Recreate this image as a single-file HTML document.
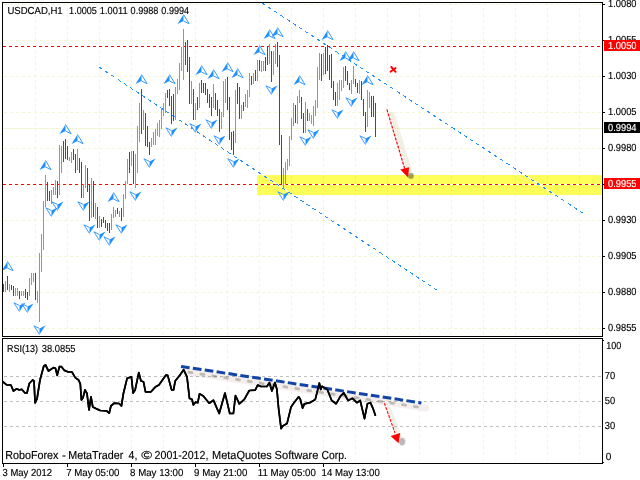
<!DOCTYPE html><html><head><meta charset="utf-8"><style>html,body{margin:0;padding:0;background:#fff;overflow:hidden}svg{display:block}text{font-family:"Liberation Sans",sans-serif;text-rendering:geometricPrecision}</style></head><body>
<svg width="640" height="480" viewBox="0 0 640 480">
<rect width="640" height="480" fill="#fff"/>
<g shape-rendering="crispEdges" stroke="#f4f4d6" stroke-width="1" stroke-dasharray="3 3">
<line x1="35.5" y1="2" x2="35.5" y2="336"/>
<line x1="35.5" y1="338" x2="35.5" y2="463"/>
<line x1="67.5" y1="2" x2="67.5" y2="336"/>
<line x1="67.5" y1="338" x2="67.5" y2="463"/>
<line x1="99.5" y1="2" x2="99.5" y2="336"/>
<line x1="99.5" y1="338" x2="99.5" y2="463"/>
<line x1="131.5" y1="2" x2="131.5" y2="336"/>
<line x1="131.5" y1="338" x2="131.5" y2="463"/>
<line x1="163.5" y1="2" x2="163.5" y2="336"/>
<line x1="163.5" y1="338" x2="163.5" y2="463"/>
<line x1="195.5" y1="2" x2="195.5" y2="336"/>
<line x1="195.5" y1="338" x2="195.5" y2="463"/>
<line x1="227.5" y1="2" x2="227.5" y2="336"/>
<line x1="227.5" y1="338" x2="227.5" y2="463"/>
<line x1="259.5" y1="2" x2="259.5" y2="336"/>
<line x1="259.5" y1="338" x2="259.5" y2="463"/>
<line x1="291.5" y1="2" x2="291.5" y2="336"/>
<line x1="291.5" y1="338" x2="291.5" y2="463"/>
<line x1="323.5" y1="2" x2="323.5" y2="336"/>
<line x1="323.5" y1="338" x2="323.5" y2="463"/>
<line x1="355.5" y1="2" x2="355.5" y2="336"/>
<line x1="355.5" y1="338" x2="355.5" y2="463"/>
<line x1="387.5" y1="2" x2="387.5" y2="336"/>
<line x1="387.5" y1="338" x2="387.5" y2="463"/>
<line x1="419.5" y1="2" x2="419.5" y2="336"/>
<line x1="419.5" y1="338" x2="419.5" y2="463"/>
<line x1="451.5" y1="2" x2="451.5" y2="336"/>
<line x1="451.5" y1="338" x2="451.5" y2="463"/>
<line x1="483.5" y1="2" x2="483.5" y2="336"/>
<line x1="483.5" y1="338" x2="483.5" y2="463"/>
<line x1="515.5" y1="2" x2="515.5" y2="336"/>
<line x1="515.5" y1="338" x2="515.5" y2="463"/>
<line x1="547.5" y1="2" x2="547.5" y2="336"/>
<line x1="547.5" y1="338" x2="547.5" y2="463"/>
<line x1="579.5" y1="2" x2="579.5" y2="336"/>
<line x1="579.5" y1="338" x2="579.5" y2="463"/>
<line x1="4" y1="4.5" x2="602" y2="4.5"/>
<line x1="4" y1="40.5" x2="602" y2="40.5"/>
<line x1="4" y1="76.5" x2="602" y2="76.5"/>
<line x1="4" y1="112.5" x2="602" y2="112.5"/>
<line x1="4" y1="148.5" x2="602" y2="148.5"/>
<line x1="4" y1="184.5" x2="602" y2="184.5"/>
<line x1="4" y1="220.5" x2="602" y2="220.5"/>
<line x1="4" y1="256.5" x2="602" y2="256.5"/>
<line x1="4" y1="292.5" x2="602" y2="292.5"/>
<line x1="4" y1="328.5" x2="602" y2="328.5"/>
</g>
<rect x="3" y="128" width="599" height="1" fill="#f4f4d6" shape-rendering="crispEdges"/>
<rect x="257" y="175" width="345" height="20" fill="#ffff5a" shape-rendering="crispEdges"/>
<g shape-rendering="crispEdges" stroke="#eeee66" stroke-width="1" stroke-dasharray="3 3">
<line x1="259.5" y1="176" x2="259.5" y2="195"/>
<line x1="291.5" y1="176" x2="291.5" y2="195"/>
<line x1="323.5" y1="176" x2="323.5" y2="195"/>
<line x1="355.5" y1="176" x2="355.5" y2="195"/>
<line x1="387.5" y1="176" x2="387.5" y2="195"/>
<line x1="419.5" y1="176" x2="419.5" y2="195"/>
<line x1="451.5" y1="176" x2="451.5" y2="195"/>
<line x1="483.5" y1="176" x2="483.5" y2="195"/>
<line x1="515.5" y1="176" x2="515.5" y2="195"/>
<line x1="547.5" y1="176" x2="547.5" y2="195"/>
<line x1="579.5" y1="176" x2="579.5" y2="195"/>
</g>
<g shape-rendering="crispEdges" stroke="#c0c0c0" stroke-width="1" stroke-dasharray="3 3">
<line x1="4" y1="376.5" x2="602" y2="376.5"/>
<line x1="4" y1="401.5" x2="602" y2="401.5"/>
<line x1="4" y1="426.5" x2="602" y2="426.5"/>
</g>
<rect x="257" y="184" width="345" height="1" fill="#fff" shape-rendering="crispEdges"/>
<g shape-rendering="crispEdges" stroke="#ff0000" stroke-width="1" stroke-dasharray="3 3">
<line x1="3" y1="46.5" x2="602" y2="46.5"/>
<line x1="3" y1="184.5" x2="602" y2="184.5"/>
</g>
<defs><clipPath id="yel"><rect x="257" y="175" width="345" height="20"/></clipPath><clipPath id="main"><rect x="3" y="3" width="599" height="333"/></clipPath></defs>
<g clip-path="url(#main)">
<line x1="99.4" y1="67.25" x2="438.7" y2="291.25" stroke="#fff" stroke-width="1.2" clip-path="url(#yel)"/><line x1="99.4" y1="67.25" x2="438.7" y2="291.25" stroke="#1e90ff" stroke-width="1" stroke-dasharray="3.65 3.65" shape-rendering="crispEdges"/>
<line x1="256.25" y1="-0.75" x2="582.5" y2="212.9" stroke="#fff" stroke-width="1.2" clip-path="url(#yel)"/><line x1="256.25" y1="-0.75" x2="582.5" y2="212.9" stroke="#1e90ff" stroke-width="1" stroke-dasharray="3.65 3.65" shape-rendering="crispEdges"/>
</g>
<g shape-rendering="crispEdges">
<rect x="3" y="284" width="1" height="8" fill="#ff0000"/>
<rect x="5" y="281" width="1" height="11" fill="#00ff00"/>
<rect x="7" y="276" width="1" height="14" fill="#ff0000"/>
<rect x="9" y="284" width="1" height="8" fill="#00ff00"/>
<rect x="11" y="285" width="1" height="5" fill="#ff0000"/>
<rect x="13" y="286" width="1" height="10" fill="#ff0000"/>
<rect x="15" y="288" width="1" height="8" fill="#00ff00"/>
<rect x="17" y="288" width="1" height="8" fill="#00ff00"/>
<rect x="19" y="291" width="1" height="8" fill="#ff0000"/>
<rect x="21" y="291" width="1" height="5" fill="#00ff00"/>
<rect x="23" y="291" width="1" height="5" fill="#00ff00"/>
<rect x="25" y="289" width="1" height="9" fill="#ff0000"/>
<rect x="27" y="292" width="1" height="8" fill="#ff0000"/>
<rect x="29" y="278" width="1" height="18" fill="#00ff00"/>
<rect x="31" y="273" width="1" height="12" fill="#00ff00"/>
<rect x="33" y="273" width="1" height="9" fill="#00ff00"/>
<rect x="35" y="273" width="1" height="27" fill="#ff0000"/>
<rect x="37" y="291" width="1" height="12" fill="#00ff00"/>
<rect x="39" y="253" width="1" height="69" fill="#00ff00"/>
<rect x="41" y="234" width="1" height="38" fill="#00ff00"/>
<rect x="43" y="201" width="1" height="49" fill="#00ff00"/>
<rect x="45" y="175" width="1" height="32" fill="#00ff00"/>
<rect x="47" y="182" width="1" height="19" fill="#ff0000"/>
<rect x="49" y="191" width="1" height="10" fill="#ff0000"/>
<rect x="51" y="190" width="1" height="14" fill="#00ff00"/>
<rect x="53" y="187" width="1" height="8" fill="#00ff00"/>
<rect x="55" y="180" width="1" height="15" fill="#00ff00"/>
<rect x="57" y="181" width="1" height="17" fill="#ff0000"/>
<rect x="59" y="145" width="1" height="50" fill="#00ff00"/>
<rect x="61" y="146" width="1" height="27" fill="#00ff00"/>
<rect x="63" y="141" width="1" height="21" fill="#ff0000"/>
<rect x="65" y="139" width="1" height="20" fill="#ff0000"/>
<rect x="67" y="146" width="1" height="14" fill="#ff0000"/>
<rect x="69" y="157" width="1" height="4" fill="#00ff00"/>
<rect x="71" y="152" width="1" height="11" fill="#00ff00"/>
<rect x="73" y="149" width="1" height="11" fill="#ff0000"/>
<rect x="75" y="154" width="1" height="19" fill="#ff0000"/>
<rect x="77" y="149" width="1" height="21" fill="#00ff00"/>
<rect x="79" y="158" width="1" height="15" fill="#ff0000"/>
<rect x="81" y="162" width="1" height="36" fill="#ff0000"/>
<rect x="83" y="184" width="1" height="14" fill="#00ff00"/>
<rect x="85" y="165" width="1" height="23" fill="#00ff00"/>
<rect x="87" y="168" width="1" height="24" fill="#ff0000"/>
<rect x="89" y="184" width="1" height="37" fill="#ff0000"/>
<rect x="91" y="178" width="1" height="40" fill="#00ff00"/>
<rect x="93" y="181" width="1" height="36" fill="#ff0000"/>
<rect x="95" y="203" width="1" height="16" fill="#00ff00"/>
<rect x="97" y="207" width="1" height="21" fill="#ff0000"/>
<rect x="99" y="216" width="1" height="12" fill="#00ff00"/>
<rect x="101" y="219" width="1" height="8" fill="#ff0000"/>
<rect x="103" y="217" width="1" height="6" fill="#ff0000"/>
<rect x="105" y="220" width="1" height="8" fill="#ff0000"/>
<rect x="107" y="223" width="1" height="8" fill="#ff0000"/>
<rect x="109" y="223" width="1" height="10" fill="#ff0000"/>
<rect x="111" y="214" width="1" height="16" fill="#00ff00"/>
<rect x="113" y="207" width="1" height="11" fill="#00ff00"/>
<rect x="115" y="210" width="1" height="7" fill="#00ff00"/>
<rect x="117" y="208" width="1" height="6" fill="#ff0000"/>
<rect x="119" y="211" width="1" height="6" fill="#00ff00"/>
<rect x="121" y="208" width="1" height="13" fill="#ff0000"/>
<rect x="123" y="194" width="1" height="23" fill="#00ff00"/>
<rect x="125" y="181" width="1" height="18" fill="#00ff00"/>
<rect x="127" y="159" width="1" height="25" fill="#00ff00"/>
<rect x="129" y="152" width="1" height="21" fill="#ff0000"/>
<rect x="131" y="151" width="1" height="15" fill="#00ff00"/>
<rect x="133" y="151" width="1" height="33" fill="#ff0000"/>
<rect x="135" y="154" width="1" height="34" fill="#00ff00"/>
<rect x="137" y="126" width="1" height="47" fill="#00ff00"/>
<rect x="139" y="103" width="1" height="39" fill="#00ff00"/>
<rect x="141" y="89" width="1" height="45" fill="#ff0000"/>
<rect x="143" y="110" width="1" height="20" fill="#00ff00"/>
<rect x="145" y="113" width="1" height="33" fill="#ff0000"/>
<rect x="147" y="126" width="1" height="21" fill="#ff0000"/>
<rect x="149" y="142" width="1" height="13" fill="#ff0000"/>
<rect x="151" y="138" width="1" height="9" fill="#00ff00"/>
<rect x="153" y="132" width="1" height="13" fill="#00ff00"/>
<rect x="155" y="129" width="1" height="16" fill="#00ff00"/>
<rect x="157" y="123" width="1" height="13" fill="#00ff00"/>
<rect x="159" y="120" width="1" height="17" fill="#00ff00"/>
<rect x="161" y="108" width="1" height="21" fill="#00ff00"/>
<rect x="163" y="103" width="1" height="13" fill="#00ff00"/>
<rect x="165" y="93" width="1" height="20" fill="#00ff00"/>
<rect x="167" y="90" width="1" height="8" fill="#ff0000"/>
<rect x="169" y="89" width="1" height="17" fill="#ff0000"/>
<rect x="171" y="96" width="1" height="28" fill="#ff0000"/>
<rect x="173" y="94" width="1" height="27" fill="#ff0000"/>
<rect x="175" y="87" width="1" height="33" fill="#00ff00"/>
<rect x="177" y="79" width="1" height="15" fill="#00ff00"/>
<rect x="179" y="63" width="1" height="27" fill="#00ff00"/>
<rect x="181" y="47" width="1" height="24" fill="#00ff00"/>
<rect x="183" y="29" width="1" height="51" fill="#00ff00"/>
<rect x="185" y="42" width="1" height="23" fill="#ff0000"/>
<rect x="187" y="40" width="1" height="32" fill="#ff0000"/>
<rect x="189" y="57" width="1" height="47" fill="#ff0000"/>
<rect x="191" y="81" width="1" height="23" fill="#00ff00"/>
<rect x="193" y="89" width="1" height="31" fill="#ff0000"/>
<rect x="195" y="103" width="1" height="17" fill="#00ff00"/>
<rect x="197" y="97" width="1" height="13" fill="#ff0000"/>
<rect x="199" y="83" width="1" height="25" fill="#00ff00"/>
<rect x="201" y="80" width="1" height="13" fill="#ff0000"/>
<rect x="203" y="83" width="1" height="10" fill="#ff0000"/>
<rect x="205" y="83" width="1" height="12" fill="#ff0000"/>
<rect x="207" y="89" width="1" height="14" fill="#ff0000"/>
<rect x="209" y="94" width="1" height="14" fill="#ff0000"/>
<rect x="211" y="97" width="1" height="19" fill="#ff0000"/>
<rect x="213" y="84" width="1" height="24" fill="#00ff00"/>
<rect x="215" y="93" width="1" height="17" fill="#ff0000"/>
<rect x="217" y="100" width="1" height="16" fill="#ff0000"/>
<rect x="219" y="109" width="1" height="23" fill="#ff0000"/>
<rect x="221" y="112" width="1" height="17" fill="#00ff00"/>
<rect x="223" y="81" width="1" height="36" fill="#00ff00"/>
<rect x="225" y="79" width="1" height="24" fill="#00ff00"/>
<rect x="227" y="77" width="1" height="33" fill="#ff0000"/>
<rect x="229" y="97" width="1" height="43" fill="#ff0000"/>
<rect x="231" y="132" width="1" height="18" fill="#ff0000"/>
<rect x="233" y="131" width="1" height="24" fill="#ff0000"/>
<rect x="235" y="90" width="1" height="53" fill="#00ff00"/>
<rect x="237" y="83" width="1" height="21" fill="#ff0000"/>
<rect x="239" y="87" width="1" height="32" fill="#ff0000"/>
<rect x="241" y="105" width="1" height="14" fill="#00ff00"/>
<rect x="243" y="102" width="1" height="9" fill="#ff0000"/>
<rect x="245" y="94" width="1" height="13" fill="#00ff00"/>
<rect x="247" y="90" width="1" height="18" fill="#00ff00"/>
<rect x="249" y="73" width="1" height="24" fill="#00ff00"/>
<rect x="251" y="76" width="1" height="9" fill="#ff0000"/>
<rect x="253" y="73" width="1" height="11" fill="#00ff00"/>
<rect x="255" y="70" width="1" height="11" fill="#ff0000"/>
<rect x="257" y="60" width="1" height="21" fill="#00ff00"/>
<rect x="259" y="60" width="1" height="11" fill="#ff0000"/>
<rect x="261" y="61" width="1" height="11" fill="#00ff00"/>
<rect x="263" y="61" width="1" height="10" fill="#00ff00"/>
<rect x="265" y="57" width="1" height="14" fill="#ff0000"/>
<rect x="267" y="46" width="1" height="19" fill="#ff0000"/>
<rect x="269" y="44" width="1" height="20" fill="#00ff00"/>
<rect x="271" y="51" width="1" height="31" fill="#ff0000"/>
<rect x="273" y="51" width="1" height="24" fill="#00ff00"/>
<rect x="275" y="44" width="1" height="20" fill="#00ff00"/>
<rect x="277" y="42" width="1" height="25" fill="#ff0000"/>
<rect x="279" y="55" width="1" height="90" fill="#ff0000"/>
<rect x="281" y="135" width="1" height="50" fill="#ff0000"/>
<rect x="283" y="168" width="1" height="20" fill="#00ff00"/>
<rect x="285" y="162" width="1" height="23" fill="#00ff00"/>
<rect x="287" y="159" width="1" height="11" fill="#00ff00"/>
<rect x="289" y="136" width="1" height="30" fill="#00ff00"/>
<rect x="291" y="118" width="1" height="22" fill="#00ff00"/>
<rect x="293" y="103" width="1" height="23" fill="#00ff00"/>
<rect x="295" y="105" width="1" height="18" fill="#ff0000"/>
<rect x="297" y="96" width="1" height="28" fill="#00ff00"/>
<rect x="299" y="90" width="1" height="13" fill="#00ff00"/>
<rect x="301" y="97" width="1" height="22" fill="#ff0000"/>
<rect x="303" y="113" width="1" height="20" fill="#ff0000"/>
<rect x="305" y="102" width="1" height="31" fill="#00ff00"/>
<rect x="307" y="109" width="1" height="12" fill="#ff0000"/>
<rect x="309" y="113" width="1" height="8" fill="#00ff00"/>
<rect x="311" y="115" width="1" height="9" fill="#00ff00"/>
<rect x="313" y="106" width="1" height="20" fill="#00ff00"/>
<rect x="315" y="100" width="1" height="16" fill="#00ff00"/>
<rect x="317" y="67" width="1" height="41" fill="#00ff00"/>
<rect x="319" y="53" width="1" height="27" fill="#00ff00"/>
<rect x="321" y="54" width="1" height="27" fill="#ff0000"/>
<rect x="323" y="53" width="1" height="22" fill="#00ff00"/>
<rect x="325" y="47" width="1" height="27" fill="#ff0000"/>
<rect x="327" y="45" width="1" height="26" fill="#ff0000"/>
<rect x="329" y="55" width="1" height="25" fill="#ff0000"/>
<rect x="331" y="54" width="1" height="34" fill="#ff0000"/>
<rect x="333" y="81" width="1" height="19" fill="#ff0000"/>
<rect x="335" y="92" width="1" height="14" fill="#ff0000"/>
<rect x="337" y="83" width="1" height="23" fill="#00ff00"/>
<rect x="339" y="80" width="1" height="20" fill="#00ff00"/>
<rect x="341" y="80" width="1" height="11" fill="#00ff00"/>
<rect x="343" y="67" width="1" height="21" fill="#00ff00"/>
<rect x="345" y="66" width="1" height="15" fill="#ff0000"/>
<rect x="347" y="71" width="1" height="14" fill="#ff0000"/>
<rect x="349" y="83" width="1" height="7" fill="#ff0000"/>
<rect x="351" y="80" width="1" height="14" fill="#00ff00"/>
<rect x="353" y="66" width="1" height="18" fill="#00ff00"/>
<rect x="355" y="79" width="1" height="8" fill="#ff0000"/>
<rect x="357" y="83" width="1" height="10" fill="#ff0000"/>
<rect x="359" y="80" width="1" height="14" fill="#00ff00"/>
<rect x="361" y="81" width="1" height="19" fill="#ff0000"/>
<rect x="363" y="99" width="1" height="17" fill="#ff0000"/>
<rect x="365" y="112" width="1" height="20" fill="#ff0000"/>
<rect x="367" y="90" width="1" height="37" fill="#00ff00"/>
<rect x="369" y="92" width="1" height="16" fill="#00ff00"/>
<rect x="371" y="96" width="1" height="21" fill="#ff0000"/>
<rect x="373" y="96" width="1" height="21" fill="#ff0000"/>
<rect x="375" y="103" width="1" height="34" fill="#ff0000"/>
</g>
<polygon points="7.5,261.5 1.5,271 7.5,268" fill="#1e90ff"/><polyline points="7.5,261.5 13.1,270.7 7.5,268" fill="none" stroke="#3a9cff" stroke-width="1"/>
<polygon points="45.5,160.5 39.5,170 45.5,167" fill="#1e90ff"/><polyline points="45.5,160.5 51.1,169.7 45.5,167" fill="none" stroke="#3a9cff" stroke-width="1"/>
<polygon points="65.5,124.5 59.5,134 65.5,131" fill="#1e90ff"/><polyline points="65.5,124.5 71.1,133.7 65.5,131" fill="none" stroke="#3a9cff" stroke-width="1"/>
<polygon points="77.5,134.5 71.5,144 77.5,141" fill="#1e90ff"/><polyline points="77.5,134.5 83.1,143.7 77.5,141" fill="none" stroke="#3a9cff" stroke-width="1"/>
<polygon points="113.5,192.5 107.5,202 113.5,199" fill="#1e90ff"/><polyline points="113.5,192.5 119.1,201.7 113.5,199" fill="none" stroke="#3a9cff" stroke-width="1"/>
<polygon points="141.5,74.5 135.5,84 141.5,81" fill="#1e90ff"/><polyline points="141.5,74.5 147.1,83.7 141.5,81" fill="none" stroke="#3a9cff" stroke-width="1"/>
<polygon points="169.5,74.5 163.5,84 169.5,81" fill="#1e90ff"/><polyline points="169.5,74.5 175.1,83.7 169.5,81" fill="none" stroke="#3a9cff" stroke-width="1"/>
<polygon points="183.5,14.5 177.5,24 183.5,21" fill="#1e90ff"/><polyline points="183.5,14.5 189.1,23.7 183.5,21" fill="none" stroke="#3a9cff" stroke-width="1"/>
<polygon points="201.5,65.5 195.5,75 201.5,72" fill="#1e90ff"/><polyline points="201.5,65.5 207.1,74.7 201.5,72" fill="none" stroke="#3a9cff" stroke-width="1"/>
<polygon points="213.5,69.5 207.5,79 213.5,76" fill="#1e90ff"/><polyline points="213.5,69.5 219.1,78.7 213.5,76" fill="none" stroke="#3a9cff" stroke-width="1"/>
<polygon points="227.5,62.5 221.5,72 227.5,69" fill="#1e90ff"/><polyline points="227.5,62.5 233.1,71.7 227.5,69" fill="none" stroke="#3a9cff" stroke-width="1"/>
<polygon points="237.5,68.5 231.5,78 237.5,75" fill="#1e90ff"/><polyline points="237.5,68.5 243.1,77.7 237.5,75" fill="none" stroke="#3a9cff" stroke-width="1"/>
<polygon points="259.5,45.5 253.5,55 259.5,52" fill="#1e90ff"/><polyline points="259.5,45.5 265.1,54.7 259.5,52" fill="none" stroke="#3a9cff" stroke-width="1"/>
<polygon points="269.5,29.5 263.5,39 269.5,36" fill="#1e90ff"/><polyline points="269.5,29.5 275.1,38.7 269.5,36" fill="none" stroke="#3a9cff" stroke-width="1"/>
<polygon points="277.5,27.5 271.5,37 277.5,34" fill="#1e90ff"/><polyline points="277.5,27.5 283.1,36.7 277.5,34" fill="none" stroke="#3a9cff" stroke-width="1"/>
<polygon points="299.5,75.5 293.5,85 299.5,82" fill="#1e90ff"/><polyline points="299.5,75.5 305.1,84.7 299.5,82" fill="none" stroke="#3a9cff" stroke-width="1"/>
<polygon points="327.5,30.5 321.5,40 327.5,37" fill="#1e90ff"/><polyline points="327.5,30.5 333.1,39.7 327.5,37" fill="none" stroke="#3a9cff" stroke-width="1"/>
<polygon points="345.5,51.5 339.5,61 345.5,58" fill="#1e90ff"/><polyline points="345.5,51.5 351.1,60.7 345.5,58" fill="none" stroke="#3a9cff" stroke-width="1"/>
<polygon points="353.5,51.5 347.5,61 353.5,58" fill="#1e90ff"/><polyline points="353.5,51.5 359.1,60.7 353.5,58" fill="none" stroke="#3a9cff" stroke-width="1"/>
<polygon points="367.5,75.5 361.5,85 367.5,82" fill="#1e90ff"/><polyline points="367.5,75.5 373.1,84.7 367.5,82" fill="none" stroke="#3a9cff" stroke-width="1"/>
<polygon points="19.5,311.5 25.5,302.5 19.5,305.5" fill="#1e90ff"/><polyline points="19.5,311.5 13.9,302.8 19.5,305.5" fill="none" stroke="#3a9cff" stroke-width="1"/>
<polygon points="27.5,312.5 33.5,303.5 27.5,306.5" fill="#1e90ff"/><polyline points="27.5,312.5 21.9,303.8 27.5,306.5" fill="none" stroke="#3a9cff" stroke-width="1"/>
<polygon points="39.5,334.5 45.5,325.5 39.5,328.5" fill="#1e90ff"/><polyline points="39.5,334.5 33.9,325.8 39.5,328.5" fill="none" stroke="#3a9cff" stroke-width="1"/>
<polygon points="51.5,216.5 57.5,207.5 51.5,210.5" fill="#1e90ff"/><polyline points="51.5,216.5 45.9,207.8 51.5,210.5" fill="none" stroke="#3a9cff" stroke-width="1"/>
<polygon points="57.5,210.5 63.5,201.5 57.5,204.5" fill="#1e90ff"/><polyline points="57.5,210.5 51.9,201.8 57.5,204.5" fill="none" stroke="#3a9cff" stroke-width="1"/>
<polygon points="83.5,210.5 89.5,201.5 83.5,204.5" fill="#1e90ff"/><polyline points="83.5,210.5 77.9,201.8 83.5,204.5" fill="none" stroke="#3a9cff" stroke-width="1"/>
<polygon points="89.5,233.5 95.5,224.5 89.5,227.5" fill="#1e90ff"/><polyline points="89.5,233.5 83.9,224.8 89.5,227.5" fill="none" stroke="#3a9cff" stroke-width="1"/>
<polygon points="99.5,240.5 105.5,231.5 99.5,234.5" fill="#1e90ff"/><polyline points="99.5,240.5 93.9,231.8 99.5,234.5" fill="none" stroke="#3a9cff" stroke-width="1"/>
<polygon points="109.5,245.5 115.5,236.5 109.5,239.5" fill="#1e90ff"/><polyline points="109.5,245.5 103.9,236.8 109.5,239.5" fill="none" stroke="#3a9cff" stroke-width="1"/>
<polygon points="121.5,233.5 127.5,224.5 121.5,227.5" fill="#1e90ff"/><polyline points="121.5,233.5 115.9,224.8 121.5,227.5" fill="none" stroke="#3a9cff" stroke-width="1"/>
<polygon points="135.5,200.5 141.5,191.5 135.5,194.5" fill="#1e90ff"/><polyline points="135.5,200.5 129.9,191.8 135.5,194.5" fill="none" stroke="#3a9cff" stroke-width="1"/>
<polygon points="149.5,167.5 155.5,158.5 149.5,161.5" fill="#1e90ff"/><polyline points="149.5,167.5 143.9,158.8 149.5,161.5" fill="none" stroke="#3a9cff" stroke-width="1"/>
<polygon points="171.5,136.5 177.5,127.5 171.5,130.5" fill="#1e90ff"/><polyline points="171.5,136.5 165.9,127.8 171.5,130.5" fill="none" stroke="#3a9cff" stroke-width="1"/>
<polygon points="195.5,132.5 201.5,123.5 195.5,126.5" fill="#1e90ff"/><polyline points="195.5,132.5 189.9,123.8 195.5,126.5" fill="none" stroke="#3a9cff" stroke-width="1"/>
<polygon points="211.5,128.5 217.5,119.5 211.5,122.5" fill="#1e90ff"/><polyline points="211.5,128.5 205.9,119.8 211.5,122.5" fill="none" stroke="#3a9cff" stroke-width="1"/>
<polygon points="219.5,144.5 225.5,135.5 219.5,138.5" fill="#1e90ff"/><polyline points="219.5,144.5 213.9,135.8 219.5,138.5" fill="none" stroke="#3a9cff" stroke-width="1"/>
<polygon points="233.5,167.5 239.5,158.5 233.5,161.5" fill="#1e90ff"/><polyline points="233.5,167.5 227.9,158.8 233.5,161.5" fill="none" stroke="#3a9cff" stroke-width="1"/>
<polygon points="271.5,94.5 277.5,85.5 271.5,88.5" fill="#1e90ff"/><polyline points="271.5,94.5 265.9,85.8 271.5,88.5" fill="none" stroke="#3a9cff" stroke-width="1"/>
<polygon points="283.5,200.5 289.5,191.5 283.5,194.5" fill="#1e90ff"/><polyline points="283.5,200.5 277.9,191.8 283.5,194.5" fill="none" stroke="#3a9cff" stroke-width="1"/>
<polygon points="305.5,145.5 311.5,136.5 305.5,139.5" fill="#1e90ff"/><polyline points="305.5,145.5 299.9,136.8 305.5,139.5" fill="none" stroke="#3a9cff" stroke-width="1"/>
<polygon points="313.5,138.5 319.5,129.5 313.5,132.5" fill="#1e90ff"/><polyline points="313.5,138.5 307.9,129.8 313.5,132.5" fill="none" stroke="#3a9cff" stroke-width="1"/>
<polygon points="337.5,118.5 343.5,109.5 337.5,112.5" fill="#1e90ff"/><polyline points="337.5,118.5 331.9,109.8 337.5,112.5" fill="none" stroke="#3a9cff" stroke-width="1"/>
<polygon points="351.5,106.5 357.5,97.5 351.5,100.5" fill="#1e90ff"/><polyline points="351.5,106.5 345.9,97.8 351.5,100.5" fill="none" stroke="#3a9cff" stroke-width="1"/>
<polygon points="365.5,144.5 371.5,135.5 365.5,138.5" fill="#1e90ff"/><polyline points="365.5,144.5 359.9,135.8 365.5,138.5" fill="none" stroke="#3a9cff" stroke-width="1"/>
<line x1="392.2" y1="114" x2="409.6" y2="170" stroke="#f1f0e3" stroke-width="4.6" stroke-linecap="round" style="mix-blend-mode:multiply"/>
<circle cx="410.9" cy="175.9" r="3.6" fill="#c8e070" fill-opacity="0.35"/>
<circle cx="410.9" cy="175.9" r="2.8" fill="#b0a4b4" style="mix-blend-mode:multiply"/>
<line x1="386.6" y1="108.4" x2="405.1" y2="170" stroke="#ffd8e4" stroke-width="1.15"/>
<line x1="386.6" y1="108.4" x2="405.1" y2="170" stroke="#ff0000" stroke-width="1.15" stroke-dasharray="2.8 1.4" stroke-dashoffset="-1.2"/>
<polygon points="400.3,169.4 409.1,167.2 408.1,177.5" fill="#ff0000"/>
<g stroke="#ff0000" stroke-width="1.9" stroke-linecap="round"><line x1="391.3" y1="67" x2="395.6" y2="71.8"/><line x1="395.6" y1="68" x2="390.5" y2="71.8"/></g>
<polyline points="2.5,381.5 6.7,384.8 10.9,385 13.4,391 16.7,388.8 19.2,390 21.7,389.3 25,393 27,393 29.3,383.5 32.6,380 34,381 35.1,403 37,399 40,380 43.8,366 45.5,365 48.5,371 53.5,367.6 55.5,368.4 57.2,375.4 59.4,366.7 61.5,366.7 64.4,370.4 67.7,371.8 72,372 75.2,377.6 78.6,380 80.3,383.8 81.4,400 83,397.7 85,389.8 87,393.5 89,410 91,396.9 92.8,407 96,408.6 100.3,410.5 106.7,411 109.2,413.2 110.9,406 114.2,403.2 119.2,403.5 121.4,406 123.4,393.5 127.1,378.4 131.4,376.8 133.1,393.1 135.1,390.1 138.8,372.6 141,381 143.5,381.8 145.5,391.8 151,391.8 155.2,387.1 158.9,385.1 166,375.1 167.7,375.4 171.6,389.8 173.6,389.8 175.2,381 180,375 183.6,369.7 187,376.8 189.5,398.5 192,399.3 193.3,404.8 195.7,402.2 197.8,402.7 199.5,393.8 203.3,396 209.2,403.2 213.4,400.2 219.2,413.5 225,393.1 229.8,413.5 233.4,413.5 235.5,395.5 239.3,403.8 244.3,399.3 249.3,390.5 255.2,390.1 257.7,385.1 261,386.5 266.9,386.5 269.4,382.6 271.9,391 274.9,382.6 276.9,389.3 278.6,408.5 281.1,428.6 282.8,426.1 287,423.6 291.1,406.9 293.6,403.2 298.7,396.8 300.3,399.3 302.6,408.1 304.4,403.8 309.8,402.7 315.3,399.4 317.5,390.6 319.3,383 320.8,389.5 321.9,386.3 327.3,389.5 331.7,400.5 336.1,403.8 340.5,396.1 343.8,392.8 348.1,400.5 352.5,398.3 356.9,402.7 360.2,400.5 364.5,418.6 367.4,403.8 370.4,402.7 373.3,409.2 375.5,415.8" fill="none" stroke="#000" stroke-width="1.7" stroke-linejoin="round"/>
<defs><filter id="bl" x="-5%" y="-50%" width="110%" height="200%"><feGaussianBlur stdDeviation="0.7"/></filter></defs>
<g filter="url(#bl)" style="mix-blend-mode:multiply">
<line x1="186" y1="371.8" x2="426" y2="408.3" stroke="#f5eeee" stroke-width="6.5" stroke-linecap="round"/>
<line x1="186" y1="371.8" x2="426" y2="408.3" stroke="#bcbcb4" stroke-width="2.8" stroke-dasharray="3 9" stroke-dashoffset="-3" stroke-linecap="round"/>
</g>
<line x1="181" y1="366.4" x2="421.4" y2="402.9" stroke="#1244a8" stroke-width="3" stroke-dasharray="8.7 3.3"/>
<polyline points="2.5,381.5 6.7,384.8 10.9,385 13.4,391 16.7,388.8 19.2,390 21.7,389.3 25,393 27,393 29.3,383.5 32.6,380 34,381 35.1,403 37,399 40,380 43.8,366 45.5,365 48.5,371 53.5,367.6 55.5,368.4 57.2,375.4 59.4,366.7 61.5,366.7 64.4,370.4 67.7,371.8 72,372 75.2,377.6 78.6,380 80.3,383.8 81.4,400 83,397.7 85,389.8 87,393.5 89,410 91,396.9 92.8,407 96,408.6 100.3,410.5 106.7,411 109.2,413.2 110.9,406 114.2,403.2 119.2,403.5 121.4,406 123.4,393.5 127.1,378.4 131.4,376.8 133.1,393.1 135.1,390.1 138.8,372.6 141,381 143.5,381.8 145.5,391.8 151,391.8 155.2,387.1 158.9,385.1 166,375.1 167.7,375.4 171.6,389.8 173.6,389.8 175.2,381 180,375 183.6,369.7 187,376.8 189.5,398.5 192,399.3 193.3,404.8 195.7,402.2 197.8,402.7 199.5,393.8 203.3,396 209.2,403.2 213.4,400.2 219.2,413.5 225,393.1 229.8,413.5 233.4,413.5 235.5,395.5 239.3,403.8 244.3,399.3 249.3,390.5 255.2,390.1 257.7,385.1 261,386.5 266.9,386.5 269.4,382.6 271.9,391 274.9,382.6 276.9,389.3 278.6,408.5 281.1,428.6 282.8,426.1 287,423.6 291.1,406.9 293.6,403.2 298.7,396.8 300.3,399.3 302.6,408.1 304.4,403.8 309.8,402.7 315.3,399.4 317.5,390.6 319.3,383 320.8,389.5 321.9,386.3 327.3,389.5 331.7,400.5 336.1,403.8 340.5,396.1 343.8,392.8 348.1,400.5 352.5,398.3 356.9,402.7 360.2,400.5 364.5,418.6 367.4,403.8 370.4,402.7 373.3,409.2 375.5,415.8" fill="none" stroke="#000" stroke-width="1.7" stroke-linejoin="round"/>
<line x1="389.3" y1="409" x2="400" y2="437" stroke="#f1f0e4" stroke-width="4" stroke-linecap="round" style="mix-blend-mode:multiply"/>
<ellipse cx="402.1" cy="441.6" rx="3.9" ry="4.6" fill="#f6e8ec"/>
<ellipse cx="402.1" cy="441.6" rx="2.9" ry="3.7" fill="#b9b9b9"/>
<line x1="384.4" y1="403.3" x2="395.1" y2="433.1" stroke="#ffd8e4" stroke-width="1.05"/>
<line x1="384.4" y1="403.3" x2="395.1" y2="433.1" stroke="#ff0000" stroke-width="1.05" stroke-dasharray="2.8 1.4"/>
<polygon points="390.6,435.9 400.2,433.1 398.5,443.2" fill="#ff0000"/>
<g shape-rendering="crispEdges" fill="none" stroke="#000" stroke-width="1">
<rect x="2.5" y="2.5" width="600" height="334"/>
<rect x="2.5" y="338.5" width="600" height="125"/>
</g>
<g shape-rendering="crispEdges" fill="#000">
<rect x="603" y="4" width="2" height="1"/>
<rect x="603" y="40" width="2" height="1"/>
<rect x="603" y="76" width="2" height="1"/>
<rect x="603" y="112" width="2" height="1"/>
<rect x="603" y="148" width="2" height="1"/>
<rect x="603" y="184" width="2" height="1"/>
<rect x="603" y="220" width="2" height="1"/>
<rect x="603" y="256" width="2" height="1"/>
<rect x="603" y="292" width="2" height="1"/>
<rect x="603" y="328" width="2" height="1"/>
<rect x="603" y="340" width="1" height="1"/>
<rect x="603" y="462" width="1" height="1"/>
<rect x="3" y="464" width="1" height="3"/>
<rect x="67" y="464" width="1" height="3"/>
<rect x="131" y="464" width="1" height="3"/>
<rect x="195" y="464" width="1" height="3"/>
<rect x="259" y="464" width="1" height="3"/>
<rect x="323" y="464" width="1" height="3"/>
</g>
<text x="608.00" y="7" font-size="10.2px" fill="#000" textLength="28.50" lengthAdjust="spacingAndGlyphs" stroke="#000" stroke-width="0.15" >1.0080</text>
<text x="608.00" y="43" font-size="10.2px" fill="#000" textLength="28.50" lengthAdjust="spacingAndGlyphs" stroke="#000" stroke-width="0.15" >1.0055</text>
<text x="608.00" y="79" font-size="10.2px" fill="#000" textLength="28.50" lengthAdjust="spacingAndGlyphs" stroke="#000" stroke-width="0.15" >1.0030</text>
<text x="608.00" y="115" font-size="10.2px" fill="#000" textLength="28.50" lengthAdjust="spacingAndGlyphs" stroke="#000" stroke-width="0.15" >1.0005</text>
<text x="608.00" y="151" font-size="10.2px" fill="#000" textLength="28.50" lengthAdjust="spacingAndGlyphs" stroke="#000" stroke-width="0.15" >0.9980</text>
<text x="608.00" y="187" font-size="10.2px" fill="#000" textLength="28.50" lengthAdjust="spacingAndGlyphs" stroke="#000" stroke-width="0.15" >0.9955</text>
<text x="608.00" y="223" font-size="10.2px" fill="#000" textLength="28.50" lengthAdjust="spacingAndGlyphs" stroke="#000" stroke-width="0.15" >0.9930</text>
<text x="608.00" y="259" font-size="10.2px" fill="#000" textLength="28.50" lengthAdjust="spacingAndGlyphs" stroke="#000" stroke-width="0.15" >0.9905</text>
<text x="608.00" y="295" font-size="10.2px" fill="#000" textLength="28.50" lengthAdjust="spacingAndGlyphs" stroke="#000" stroke-width="0.15" >0.9880</text>
<text x="608.00" y="331" font-size="10.2px" fill="#000" textLength="28.50" lengthAdjust="spacingAndGlyphs" stroke="#000" stroke-width="0.15" >0.9855</text>
<text x="606.20" y="349" font-size="10.2px" fill="#000" textLength="15.00" lengthAdjust="spacingAndGlyphs" stroke="#000" stroke-width="0.15" >100</text>
<text x="604.80" y="379" font-size="10.2px" fill="#000" textLength="10.40" lengthAdjust="spacingAndGlyphs" stroke="#000" stroke-width="0.15" >70</text>
<text x="604.80" y="404" font-size="10.2px" fill="#000" textLength="10.40" lengthAdjust="spacingAndGlyphs" stroke="#000" stroke-width="0.15" >50</text>
<text x="604.80" y="429" font-size="10.2px" fill="#000" textLength="10.40" lengthAdjust="spacingAndGlyphs" stroke="#000" stroke-width="0.15" >30</text>
<text x="605.80" y="460" font-size="10.2px" fill="#000" textLength="5.60" lengthAdjust="spacingAndGlyphs" stroke="#000" stroke-width="0.15" >0</text>
<g shape-rendering="crispEdges"><rect x="604" y="40" width="36" height="11" fill="#ff0000"/><rect x="604" y="122" width="36" height="11" fill="#000"/><rect x="604" y="178" width="36" height="11" fill="#ff0000"/></g>
<text x="608.00" y="49" font-size="10.2px" fill="#fff" textLength="28.50" lengthAdjust="spacingAndGlyphs" stroke="#fff" stroke-width="0.15" >1.0050</text>
<text x="608.00" y="131" font-size="10.2px" fill="#fff" textLength="28.50" lengthAdjust="spacingAndGlyphs" stroke="#fff" stroke-width="0.15" >0.9994</text>
<text x="608.00" y="187" font-size="10.2px" fill="#fff" textLength="28.50" lengthAdjust="spacingAndGlyphs" stroke="#fff" stroke-width="0.15" >0.9955</text>
<text x="7.40" y="14" font-size="10.2px" fill="#000" textLength="55.30" lengthAdjust="spacingAndGlyphs" stroke="#000" stroke-width="0.15" >USDCAD,H1</text>
<text x="69.10" y="14" font-size="10.2px" fill="#000" textLength="27.80" lengthAdjust="spacingAndGlyphs" stroke="#000" stroke-width="0.15" >1.0005</text>
<text x="99.85" y="14" font-size="10.2px" fill="#000" textLength="27.80" lengthAdjust="spacingAndGlyphs" stroke="#000" stroke-width="0.15" >1.0011</text>
<text x="130.60" y="14" font-size="10.2px" fill="#000" textLength="27.80" lengthAdjust="spacingAndGlyphs" stroke="#000" stroke-width="0.15" >0.9988</text>
<text x="161.35" y="14" font-size="10.2px" fill="#000" textLength="27.80" lengthAdjust="spacingAndGlyphs" stroke="#000" stroke-width="0.15" >0.9994</text>
<text x="7.10" y="352" font-size="10.2px" fill="#000" textLength="31.00" lengthAdjust="spacingAndGlyphs" stroke="#000" stroke-width="0.15" >RSI(13)</text>
<text x="41.70" y="352" font-size="10.2px" fill="#000" textLength="33.90" lengthAdjust="spacingAndGlyphs" stroke="#000" stroke-width="0.15" >38.0855</text>
<text x="5.20" y="459" font-size="11.6px" fill="#000" textLength="53.20" lengthAdjust="spacingAndGlyphs" stroke="#000" stroke-width="0.15" >RoboForex</text>
<text x="62.00" y="459" font-size="11.6px" fill="#000" textLength="4.00" lengthAdjust="spacingAndGlyphs" stroke="#000" stroke-width="0.15" >-</text>
<text x="68.20" y="459" font-size="11.6px" fill="#000" textLength="55.20" lengthAdjust="spacingAndGlyphs" stroke="#000" stroke-width="0.15" >MetaTrader</text>
<text x="128.60" y="459" font-size="11.6px" fill="#000" textLength="8.80" lengthAdjust="spacingAndGlyphs" stroke="#000" stroke-width="0.15" >4,</text>
<text x="141.20" y="459" font-size="11.6px" fill="#000" textLength="10.80" lengthAdjust="spacingAndGlyphs" stroke="#000" stroke-width="0.15" >©</text>
<text x="154.60" y="459" font-size="11.6px" fill="#000" textLength="53.80" lengthAdjust="spacingAndGlyphs" stroke="#000" stroke-width="0.15" >2001-2012,</text>
<text x="212.00" y="459" font-size="11.6px" fill="#000" textLength="59.80" lengthAdjust="spacingAndGlyphs" stroke="#000" stroke-width="0.15" >MetaQuotes</text>
<text x="274.60" y="459" font-size="11.6px" fill="#000" textLength="43.80" lengthAdjust="spacingAndGlyphs" stroke="#000" stroke-width="0.15" >Software</text>
<text x="321.60" y="459" font-size="11.6px" fill="#000" textLength="25.40" lengthAdjust="spacingAndGlyphs" stroke="#000" stroke-width="0.15" >Corp.</text>
<text x="2.60" y="476" font-size="10.2px" fill="#000" textLength="49.40" lengthAdjust="spacingAndGlyphs" stroke="#000" stroke-width="0.15" >3 May 2012</text>
<text x="66.20" y="476" font-size="10.2px" fill="#000" textLength="53.20" lengthAdjust="spacingAndGlyphs" stroke="#000" stroke-width="0.15" >7 May 05:00</text>
<text x="130.10" y="476" font-size="10.2px" fill="#000" textLength="53.30" lengthAdjust="spacingAndGlyphs" stroke="#000" stroke-width="0.15" >8 May 13:00</text>
<text x="194.10" y="476" font-size="10.2px" fill="#000" textLength="53.30" lengthAdjust="spacingAndGlyphs" stroke="#000" stroke-width="0.15" >9 May 21:00</text>
<text x="257.85" y="476" font-size="10.2px" fill="#000" textLength="58.05" lengthAdjust="spacingAndGlyphs" stroke="#000" stroke-width="0.15" >11 May 05:00</text>
<text x="321.60" y="476" font-size="10.2px" fill="#000" textLength="58.20" lengthAdjust="spacingAndGlyphs" stroke="#000" stroke-width="0.15" >14 May 13:00</text>
</svg></body></html>
